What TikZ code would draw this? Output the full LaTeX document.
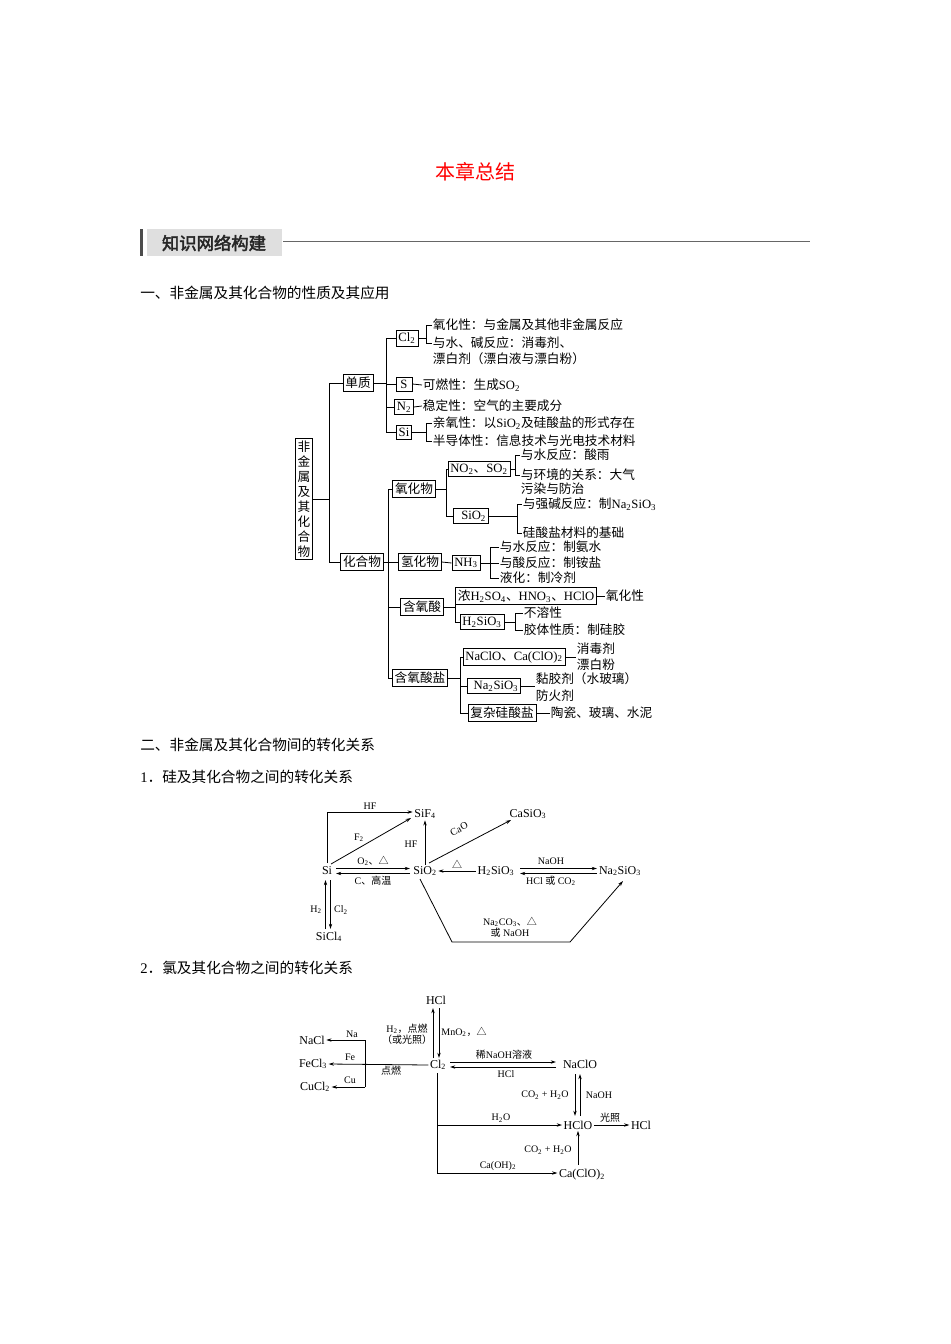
\documentclass[tikz,border=0pt]{standalone}
\usepackage{fontspec}
\setmainfont{Liberation Serif}
\newfontfamily\cjk{Noto Sans CJK SC}[AutoFakeBold=2.5]
\XeTeXinterchartokenstate=1
\newXeTeXintercharclass\cjkcls
\newcount\cjkc
\def\cjkrange#1#2{\cjkc=#1\relax\loop\XeTeXcharclass\cjkc=\cjkcls\advance\cjkc by 1\relax\ifnum\cjkc<#2\repeat}
\cjkrange{"4E00}{"A000}
\cjkrange{"3000}{"3040}
\cjkrange{"FF00}{"FFF0}
\XeTeXcharclass"25B3=\cjkcls
\XeTeXinterchartoks 0 \cjkcls={\cjk}
\XeTeXinterchartoks 4095 \cjkcls={\cjk}
\XeTeXinterchartoks \cjkcls 0={\rmfamily}
\XeTeXinterchartoks \cjkcls 4095={\rmfamily}
\newcommand\sub[1]{\textsubscript{#1}}
\usetikzlibrary{arrows.meta}
\begin{document}
\begin{tikzpicture}[x=0.75pt,y=-0.75pt,
  every node/.style={inner sep=1pt,font=\fontsize{9.5}{10.5}\selectfont},
  bx/.style={draw,line width=0.6pt,inner xsep=1.8pt,inner ysep=2pt},
  t/.style={anchor=west,inner sep=0.5pt},
  ln/.style={line width=0.6pt},
  ch/.style={font=\fontsize{9}{10}\selectfont},
  lb/.style={font=\fontsize{7.5}{8.5}\selectfont,inner sep=0.5pt},
  ar/.style={line width=0.6pt,-{Stealth[length=4pt,width=2.5pt]}},
  hd/.style={font=\fontsize{11}{13}\selectfont,anchor=west,inner sep=0pt}]
\useasboundingbox (0,0) rectangle (950,1344);
% header
\node[text=red,font=\fontsize{15}{17}\selectfont] (title) at (475,172) {本章总结};
\fill[gray!60!black] (140,229) rectangle (143,256);
\fill[gray!25] (147,229) rectangle (282,256);
\node[font=\fontsize{13}{15}\selectfont\bfseries,text=black!85] (hdr) at (214,243) {知识网络构建};
\draw[gray!80!black,line width=0.6pt] (283,241) coordinate (hl) -- (810,241) coordinate (hr);
\node[hd] (s1) at (140,293) {一、非金属及其化合物的性质及其应用};
\node[hd] (s2) at (140,745) {二、非金属及其化合物间的转化关系};
\node[hd] (s3) at (140,777) {1．硅及其化合物之间的转化关系};
\node[hd] (s4) at (140,968) {2．氯及其化合物之间的转化关系};

% ===== tree =====
\node[bx,align=center,font=\fontsize{9.5}{11.2}\selectfont] (root) at (304,499) {非\\金\\属\\及\\其\\化\\合\\物};
\node[bx] (dz) at (358,383) {单质};
\node[bx] (hhw) at (362,562) {化合物};
\draw[ln] (root.east) -- (329,499);
\draw[ln] (dz.west) -- (329,383) -- (329,562) -- (hhw.west);
% 单质 branch
\node[bx] (cl2) at (407,338) {Cl\sub{2}};
\node[bx] (s) at (404,384) {\,S\,};
\node[bx] (n2) at (404,407) {N\sub{2}};
\node[bx] (si) at (404,432) {Si};
\draw[ln] (dz.east) -- (386,383);
\draw[ln] (cl2.west) -- (386,338) -- (386,432) -- (si.west);
\draw[ln] (386,384) -- (s.west); \draw[ln] (386,407) -- (n2.west);
\node[t] (c1) at (432,325) {氧化性：与金属及其他非金属反应};
\node[t] (c2) at (432,343) {与水、碱反应：消毒剂、};
\node[t] (c3) at (432,359) {漂白剂（漂白液与漂白粉）};
\draw[ln] (cl2.east) -- (426,338);
\draw[ln] (c1.west) -- (426,325) -- (426,343) -- (c2.west);
\node[t] (s1t) at (422,385) {可燃性：生成SO\sub{2}};
\draw[ln] (s.east) -- (s1t.west);
\node[t] (n1t) at (422,406) {稳定性：空气的主要成分};
\draw[ln] (n2.east) -- (n1t.west);
\node[t] (si1) at (432,423) {亲氧性：以SiO\sub{2}及硅酸盐的形式存在};
\node[t] (si2) at (432,441) {半导体性：信息技术与光电技术材料};
\draw[ln] (si.east) -- (426,432);
\draw[ln] (si1.west) -- (426,423) -- (426,441) -- (si2.west);
% 化合物 branch
\node[bx] (yhw) at (414,489) {氧化物};
\node[bx] (qhw) at (420,562) {氢化物};
\node[bx] (hys) at (422,607) {含氧酸};
\node[bx] (hyy) at (420,678) {含氧酸盐};
\draw[ln] (hhw.east) -- (qhw.west);
\draw[ln] (yhw.west) -- (388,489) -- (388,678) -- (hyy.west);
\draw[ln] (388,607) -- (hys.west);
% 氧化物
\node[bx] (noso) at (479,469) {NO\sub{2}、SO\sub{2}};
\node[bx] (sio2) at (471,516) {\hspace{4pt}SiO\sub{2}\hspace{4pt}};
\draw[ln] (yhw.east) -- (446,489);
\draw[ln] (noso.west) -- (446,469) -- (446,516) -- (sio2.west);
\node[t] (o1) at (520,455) {与水反应：酸雨};
\node[t] (o2) at (520,475) {与环境的关系：大气};
\node[t] (o3) at (520,489) {污染与防治};
\draw[ln] (noso.east) -- (515,469);
\draw[ln] (o1.west) -- (515,455) -- (515,475) -- (o2.west);
\node[t] (o4) at (522,504) {与强碱反应：制Na\sub{2}SiO\sub{3}};
\node[t] (o5) at (522,533) {硅酸盐材料的基础};
\draw[ln] (sio2.east) -- (517,516);
\draw[ln] (o4.west) -- (517,504) -- (517,533) -- (o5.west);
% 氢化物
\node[bx] (nh3) at (466,563) {NH\sub{3}};
\draw[ln] (qhw.east) -- (nh3.west);
\node[t] (h1) at (499,547) {与水反应：制氨水};
\node[t] (h2) at (499,563) {与酸反应：制铵盐};
\node[t] (h3) at (499,578) {液化：制冷剂};
\draw[ln] (nh3.east) -- (h2.west);
\draw[ln] (h1.west) -- (490,547) -- (490,578) -- (h3.west);
% 含氧酸
\node[bx] (acid) at (526,596) {浓H\sub{2}SO\sub{4}、HNO\sub{3}、HClO};
\node[bx] (h2sio3) at (482,622) {H\sub{2}SiO\sub{3}};
\draw[ln] (hys.east) -- (455,607);
\draw[ln] (acid.west) -- (455,596) -- (455,622) -- (h2sio3.west);
\node[t] (a1) at (605,596) {氧化性};
\draw[ln] (acid.east) -- (a1.west);
\node[t] (a2) at (523,613) {不溶性};
\node[t] (a3) at (523,630) {胶体性质：制硅胶};
\draw[ln] (h2sio3.east) -- (515,622);
\draw[ln] (a2.west) -- (515,613) -- (515,630) -- (a3.west);
% 含氧酸盐
\node[bx] (naclo) at (514,657) {NaClO、Ca(ClO)\sub{2}};
\node[bx] (na2sio3) at (494,686) {\hspace{3pt}Na\sub{2}SiO\sub{3}\hspace{3pt}};
\node[bx] (fz) at (502,713) {复杂硅酸盐};
\draw[ln] (hyy.east) -- (460,678);
\draw[ln] (naclo.west) -- (460,657) -- (460,713) -- (fz.west);
\draw[ln] (460,686) -- (na2sio3.west);
\node[t] (y1) at (576,649) {消毒剂};
\node[t] (y2) at (576,665) {漂白粉};
\draw[ln] (naclo.east) -- (576,657);
\node[t] (y3) at (535,679) {黏胶剂（水玻璃）};
\node[t] (y4) at (535,696) {防火剂};
\draw[ln] (na2sio3.east) -- (535,686);
\node[t] (y5) at (550,713) {陶瓷、玻璃、水泥};
\draw[ln] (fz.east) -- (y5.west);

% ===== silicon =====
\begin{scope}[every node/.style={ch,inner sep=1pt}]
\node (Si) at (327,871) {Si};
\node (SiF4) at (425,814) {SiF\sub{4}};
\node (CaSiO3) at (528,814) {CaSiO\sub{3}};
\node (SiO2) at (425,871) {SiO\sub{2}};
\node (H2SiO3) at (496,871) {H\sub{2}SiO\sub{3}};
\node (Na2SiO3) at (620,871) {Na\sub{2}SiO\sub{3}};
\node (SiCl4) at (329,937) {SiCl\sub{4}};
\end{scope}
\draw[ar] (327,863) -- (327,812) -- (SiF4.west |- 0,812);
\node[lb] at (370,806) {HF};
\draw[ar] (331,864) -- (411,818);
\node[lb] at (359,838) {F\sub{2}};
\draw[ar] (SiO2.north) -- (SiF4.south);
\node[lb] at (411,844) {HF};
\draw[ar] (429,863) -- (511,820);
\node[lb,rotate=28,inner sep=0pt] at (459,829) {CaO};
\draw[ar] (336,868.5) -- (410,868.5);
\draw[ar] (410,873.5) -- (336,873.5);
\node[lb] at (373,861) {O\sub{2}、△};
\node[lb] at (373,881) {C、高温};
\draw[ar] (H2SiO3.west) -- (SiO2.east);
\node[lb] at (457,864) {△};
\draw[ar] (520,868.5) -- (597,868.5);
\draw[ar] (597,873.5) -- (520,873.5);
\node[lb] at (551,861) {NaOH};
\node[lb] at (551,881) {HCl 或 CO\sub{2}};
\draw[ar] (325.5,929) -- (325.5,880);
\draw[ar] (330.5,880) -- (330.5,929);
\node[lb] at (316,910) {H\sub{2}};
\node[lb] at (341,910) {Cl\sub{2}};
\draw[ar] (420,879) -- (452,942) -- (570,942) -- (623,881);
\node[lb,align=center] at (510,927) {Na\sub{2}CO\sub{3}、△\\或 NaOH};

% ===== chlorine =====
\begin{scope}[every node/.style={ch,inner sep=1pt}]
\node (HCl) at (436,1000) {HCl};
\node (Cl2) at (438,1065) {Cl\sub{2}};
\node (NaCl) at (312,1040) {NaCl};
\node (FeCl3) at (313,1064) {FeCl\sub{3}};
\node (CuCl2) at (315,1087) {CuCl\sub{2}};
\node (NaClO) at (580,1064) {NaClO};
\node (HClO) at (578,1125) {HClO};
\node (HCl2) at (641,1125) {HCl};
\node (CaClO) at (582,1175) {Ca(ClO)\sub{2}};
\end{scope}
\draw[ar] (433,1058) -- (433,1008);
\draw[ar] (439,1008) -- (439,1058);
\node[lb,align=center] at (407,1034) {H\sub{2}，点燃\\（或光照）};
\node[lb] at (464,1032) {MnO\sub{2}，△};
\draw[ar] (Cl2.west) -- (FeCl3.east);
\draw[ln] (365,1040) -- (365,1087);
\draw[ar] (365,1040) -- (NaCl.east);
\draw[ar] (365,1087) -- (CuCl2.east);
\node[lb] at (352,1034) {Na};
\node[lb] at (350,1057) {Fe};
\node[lb] at (350,1080) {Cu};
\node[lb] at (391,1071) {点燃};
\draw[ar] (450,1062) -- (556,1062);
\draw[ar] (556,1067) -- (450,1067);
\node[lb] at (504,1055) {稀NaOH溶液};
\node[lb] at (506,1074) {HCl};
\draw[ar] (575,1074) -- (575,1116);
\draw[ar] (580,1116) -- (580,1074);
\node[lb] at (545,1095) {CO\sub{2} + H\sub{2}O};
\node[lb] at (599,1095) {NaOH};
\draw[ln] (437,1073) -- (437,1173);
\draw[ar] (437,1125) -- (HClO.west);
\node[lb] at (501,1118) {H\sub{2}O};
\draw[ar] (437,1173) -- (CaClO.west |- 0,1173);
\node[lb] at (498,1166) {Ca(OH)\sub{2}};
\draw[ar] (578,1165) -- (HClO.south);
\node[lb] at (548,1150) {CO\sub{2} + H\sub{2}O};
\draw[ar] (HClO.east) -- (HCl2.west);
\node[lb] at (610,1118) {光照};
\end{tikzpicture}
\end{document}
